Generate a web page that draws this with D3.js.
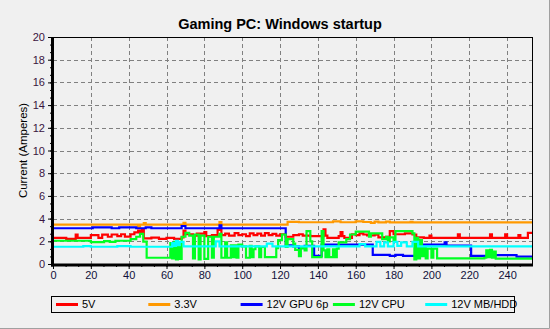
<!DOCTYPE html>
<html>
<head>
<meta charset="utf-8">
<script src="https://cdn.jsdelivr.net/npm/d3@7"></script>
<style>
  html, body { margin: 0; padding: 0; background: #f0f0f0; }
  svg { display: block; font-family: "Liberation Sans", Arial, sans-serif; }
</style>
</head>
<body>
<div id="chart"></div>
<script>
// ============================================================
// Gaming PC: Windows startup — PSU rail currents
// ============================================================

// Samples as change points [time step, amps]; value holds until next point
const amps5V = [
  [0,2.3],[7,2.22],[12,2.58],[13,2.3],[20,2.55],[24,2.3],[26,2.58],[29,2.4],[31,2.6],[34,2.45],
  [36,2.62],[38,2.42],[41,2.62],[43,2.78],[45,2.95],[46,2.72],[47,3.0],[48,2.25],[52,2.32],[56,2.22],
  [60,2.3],[64,2.22],[68,2.35],[69,2.95],[70,2.62],[74,2.5],[76,2.68],[80,2.82],[81,2.45],[84,2.55],
  [87,3.0],[89,2.55],[91,2.68],[93,2.5],[96,2.72],[98,2.55],[100,2.62],[102,2.45],[104,2.7],[106,2.55],
  [108,2.68],[110,2.5],[112,2.72],[114,2.55],[116,2.65],[118,2.5],[120,2.62],[123,2.4],[127,2.55],[130,2.62],
  [132,2.5],[136,2.45],[143,3.05],[144,2.5],[145,2.3],[151,2.45],[152,2.8],[153,2.45],[154,2.3],[158,2.62],
  [160,2.55],[162,2.7],[164,2.6],[166,2.52],[170,2.58],[172,2.35],[176,2.4],[178,2.9],[180,2.62],[186,2.7],
  [190,2.6],[192,2.35],[196,2.3],[199,2.5],[200,2.3],[214,2.62],[215,2.3],[231,2.62],[232,2.3],[239,2.62],
  [240,2.3],[246,2.55],[247,2.3],[251,2.75],[254,2.75]
];
const amps33V = [
  [0,3.47],[45,3.3],[46,3.47],[48,3.6],[49,3.47],[69,3.62],[70,3.47],[88,3.7],[89,3.47],[124,3.72],
  [130,3.68],[148,3.76],[152,3.68],[160,3.76],[164,3.7],[168,3.63],[170,3.73],[172,3.66],[176,3.73],[178,3.66],
  [189,3.72],[190,3.66],[254,3.66]
];
const ampsGpu = [
  [0,3.15],[21,3.22],[31,3.15],[35,3.22],[44,3.15],[49,3.22],[52,3.15],[68,3.35],[70,3.15],[88,3.4],
  [89,3.15],[123,1.65],[127,1.55],[130,1.4],[133,1.6],[138,0.72],[142,1.7],[169,0.8],[178,0.72],[181,0.8],
  [185,0.72],[192,1.7],[207,1.9],[208,1.62],[221,0.72],[231,1.15],[232,0.78],[245,0.65],[254,0.65]
];
const ampsCpu = [
  [0,2.05],[20,1.93],[27,2.02],[30,1.95],[33,2.05],[41,2.2],[44,2.4],[46,2.65],[47.7,1.98],[49.5,0.55],
  [62,1.85],[63,0.5],[64,1.95],[65,0.4],[66,1.9],[67,0.45],[68,2.4],[70,2.75],[72,2.5],[74,0.5],
  [75,2.6],[77,0.4],[78,2.5],[80,0.45],[82,2.4],[84,0.55],[85,2.4],[88,2.65],[89,0.55],[91,1.9],
  [92,0.55],[94,1.65],[95,0.6],[96,1.65],[97,0.55],[98,1.7],[100,1.55],[102,0.55],[104,1.6],[105,0.6],
  [106,1.3],[107,1.55],[109,0.6],[110,1.5],[112,0.6],[118,1.4],[119,2.1],[121,2.6],[123,1.5],[124,2.2],
  [127,1.8],[128,1.25],[130,0.7],[131,1.4],[133,1.2],[134,2.9],[136,2.0],[137,0.6],[142,2.9],[143,1.2],
  [144,0.6],[145,1.3],[146,0.6],[148,1.3],[149,0.6],[150,1.35],[151,1.9],[155,2.2],[157,2.6],[160,2.85],
  [165,2.85],[167,2.4],[168,2.7],[174,2.2],[176,2.4],[177,2.0],[178,2.35],[180,2.05],[181,2.9],[190,2.7],
  [191,0.4],[192,2.3],[193,0.5],[194,2.1],[195,0.7],[196,1.4],[197,0.5],[198,1.35],[200,0.55],[201,1.35],
  [203,0.5],[228,0.55],[229,1.2],[230,0.6],[231,1.25],[232,0.55],[233,1.1],[234,0.48],[254,0.48]
];
const ampsMbHdd = [
  [0,1.52],[16,1.57],[20,1.52],[34,1.57],[41,1.52],[63,1.85],[64,1.6],[65,2.05],[66,1.65],[67,1.95],
  [69,1.55],[86,2.0],[88,1.55],[113,1.8],[116,1.55],[162,1.75],[165,1.55],[171,1.95],[173,1.55],[175,1.9],
  [177,1.55],[180,1.95],[182,1.6],[184,1.9],[187,1.55],[190,1.95],[193,1.55],[254,1.55]
];

const seriesNames = ['5V', '3.3V', '12V GPU 6p', '12V CPU', '12V MB/HDD'];
const seriesValues = [amps5V, amps33V, ampsGpu, ampsCpu, ampsMbHdd];
const xTickValues = d3.range(0, 241, 20);
const yTickValues = d3.range(0, 21, 2);

const colors = ['#ff0000', '#ff9900', '#0000ff', '#00ff22', '#00ffff'];

const W = 550, H = 329;
const plot = { left: 53, top: 37, right: 533, bottom: 264 };

const svg = d3.select('#chart').append('svg')
    .attr('width', W)
    .attr('height', H);

// Background + window border
svg.append('rect').attr('width', W).attr('height', H).attr('fill', '#f0f0f0');
svg.append('path')
    .attr('d', `M${W - 0.5},0 V${H - 0.5} H0`)
    .attr('fill', 'none').attr('stroke', '#a0a0a0');

const x = d3.scaleLinear().domain([0, 253.7]).range([plot.left, plot.right]);
const y = d3.scaleLinear().domain([0, 20]).range([plot.bottom, plot.top]);

// Title
svg.append('text')
    .attr('x', 280).attr('y', 29)
    .attr('text-anchor', 'middle')
    .attr('font-size', '14.5px')
    .attr('font-weight', 'bold')
    .attr('fill', '#000')
    .text('Gaming PC: Windows startup');

// Grid
const grid = svg.append('g')
    .attr('stroke', '#808080')
    .attr('stroke-dasharray', '4,3')
    .attr('stroke-width', 1);
grid.selectAll('.gx')
    .data(xTickValues.filter(d => d > 0))
    .join('line')
    .attr('x1', d => Math.round(x(d)) + 0.5).attr('x2', d => Math.round(x(d)) + 0.5)
    .attr('y1', plot.top).attr('y2', plot.bottom);
grid.selectAll('.gy')
    .data(yTickValues.filter(d => d > 0 && d < 20))
    .join('line')
    .attr('y1', d => Math.round(y(d)) + 0.5).attr('y2', d => Math.round(y(d)) + 0.5)
    .attr('x1', plot.left).attr('x2', plot.right);

// Series
svg.append('clipPath').attr('id', 'clip')
    .append('rect')
    .attr('x', plot.left).attr('y', plot.top)
    .attr('width', plot.right - plot.left).attr('height', plot.bottom - plot.top);

const line = d3.line()
    .x(d => x(d[0]))
    .y(d => y(d[1]))
    .curve(d3.curveStepAfter);

svg.append('g').attr('clip-path', 'url(#clip)')
    .selectAll('path')
    .data(seriesValues)
    .join('path')
    .attr('d', line)
    .attr('fill', 'none')
    .attr('stroke', (d, i) => colors[i])
    .attr('stroke-width', 2.2)
    .attr('stroke-linejoin', 'miter');

// Frame
svg.append('rect')
    .attr('x', plot.left + 0.5).attr('y', plot.top + 0.5)
    .attr('width', plot.right - plot.left - 1).attr('height', plot.bottom - plot.top)
    .attr('fill', 'none').attr('stroke', '#000');

// Axes
const yAxis = svg.append('g')
    .attr('transform', `translate(${plot.left - 1},0)`)
    .call(d3.axisLeft(y).tickValues(yTickValues).tickSize(4).tickPadding(3).tickFormat(d3.format('d')));
const yMinor = svg.append('g')
    .attr('transform', `translate(${plot.left - 1},0)`)
    .call(d3.axisLeft(y).tickValues(d3.range(0, 20.01, 2 / 3)).tickSize(2).tickFormat(''));
const xAxis = svg.append('g')
    .attr('transform', `translate(0,${plot.bottom + 1})`)
    .call(d3.axisBottom(x).tickValues(xTickValues).tickSize(4).tickPadding(2).tickFormat(d3.format('d')));
const xMinor = svg.append('g')
    .attr('transform', `translate(0,${plot.bottom + 1})`)
    .call(d3.axisBottom(x).tickValues(d3.range(0, 253, 20 / 3)).tickSize(2).tickFormat(''));

[yAxis, yMinor, xAxis, xMinor].forEach(a => {
    a.select('.domain').remove();
    a.selectAll('line').attr('stroke', '#000');
});
yAxis.selectAll('text').attr('font-size', '11px').attr('fill', '#3a1440').attr('font-family', null);
xAxis.selectAll('text').attr('font-size', '11px').attr('fill', '#10103a').attr('font-family', null);

// Thick axis lines
svg.append('line')
    .attr('x1', plot.left - 0.5).attr('x2', plot.left - 0.5)
    .attr('y1', plot.top).attr('y2', plot.bottom + 2.5)
    .attr('stroke', '#000').attr('stroke-width', 3);
svg.append('line')
    .attr('x1', plot.left - 2).attr('x2', plot.right)
    .attr('y1', plot.bottom + 1).attr('y2', plot.bottom + 1)
    .attr('stroke', '#000').attr('stroke-width', 3);

// Y axis title
svg.append('text')
    .attr('transform', `translate(27,${(plot.top + plot.bottom) / 2}) rotate(-90)`)
    .attr('text-anchor', 'middle')
    .attr('font-size', '11.5px')
    .attr('fill', '#000')
    .text('Current (Amperes)');

// Legend
const legend = svg.append('g');
legend.append('rect')
    .attr('x', 51.5).attr('y', 296.5)
    .attr('width', 463).attr('height', 16)
    .attr('fill', 'none').attr('stroke', '#000');
const item = legend.selectAll('.item')
    .data(seriesNames)
    .join('g')
    .attr('transform', (d, i) => `translate(${56 + i * 92.3},304.5)`);
item.append('line')
    .attr('x1', 0).attr('x2', 22)
    .attr('stroke', (d, i) => colors[i])
    .attr('stroke-width', 3);
item.append('text')
    .attr('x', 26).attr('dy', '0.36em')
    .attr('font-size', '11px')
    .attr('fill', '#000')
    .text(d => d);
</script>
</body>
</html>
